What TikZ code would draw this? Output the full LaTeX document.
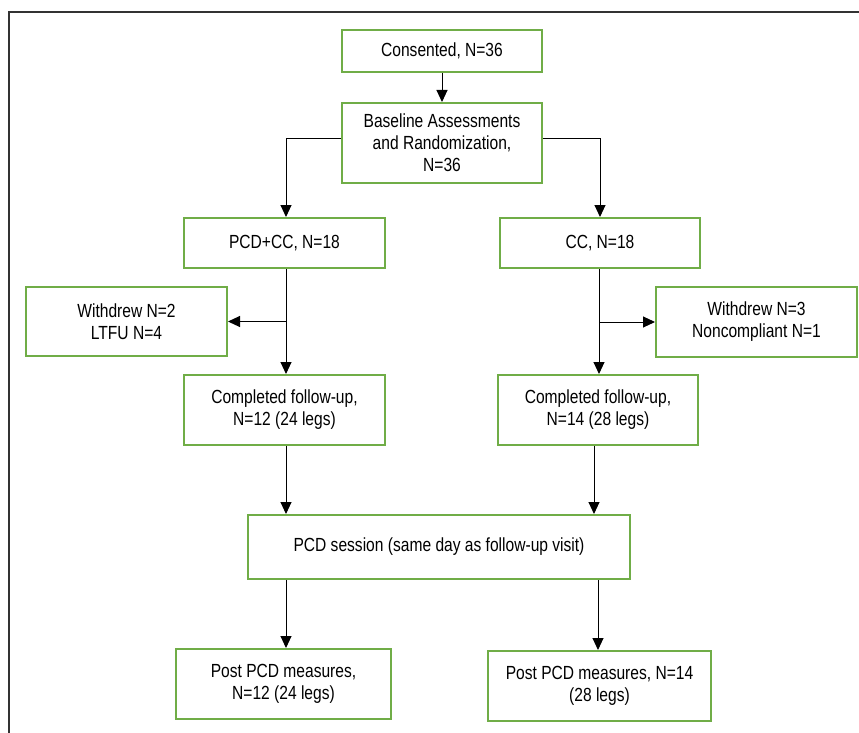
\documentclass[tikz,border=0pt]{standalone}
\usepackage{fontspec}
\setmainfont[FakeStretch=0.82]{Liberation Sans}
\usetikzlibrary{arrows.meta}
\definecolor{boxgreen}{RGB}{112,173,71}
\definecolor{framegray}{RGB}{50,50,50}
\begin{document}
\begin{tikzpicture}[x=1pt,y=-1pt,
  box/.style={draw=boxgreen,line width=2pt,fill=white,align=center,inner sep=0pt,
    font=\fontsize{19}{22}\selectfont},
  arr/.style={line width=1pt,-{Triangle[length=12pt,width=11pt]}},
  ln/.style={line width=1pt}]
\useasboundingbox (0,0) rectangle (859,733);
\draw[framegray,line width=1.5pt] (9,733) -- (9,12) -- (859,12);

\node[box,minimum width=200pt,minimum height=42pt] (cons) at (442,51) {Consented, N=36};
\node[box,minimum width=200pt,minimum height=80pt] (base) at (442,143) {Baseline Assessments\\and Randomization,\\N=36};
\node[box,minimum width=201pt,minimum height=50pt] (pcd) at (284.5,243) {PCD+CC, N=18};
\node[box,minimum width=200pt,minimum height=50pt] (cc) at (600,243) {CC, N=18};
\node[box,minimum width=201pt,minimum height=69pt] (wl) at (126.5,321.5) {Withdrew N=2\\LTFU N=4};
\node[box,minimum width=201pt,minimum height=70pt] (wr) at (756.5,322) {Withdrew N=3\\Noncompliant N=1};
\node[box,minimum width=201pt,minimum height=70pt] (cl) at (284.5,410) {Completed follow-up,\\N=12 (24 legs)};
\node[box,minimum width=200pt,minimum height=70pt] (cr) at (598,410) {Completed follow-up,\\N=14 (28 legs)};
\node[box,minimum width=382pt,minimum height=64pt] (ses) at (439,547) {PCD session (same day as follow-up visit)};
\node[box,minimum width=215pt,minimum height=70pt] (pl) at (283.5,684) {Post PCD measures,\\N=12 (24 legs)};
\node[box,minimum width=223pt,minimum height=70pt] (pr) at (599.5,686) {Post PCD measures, N=14\\(28 legs)};

\draw[arr] (cons.south) -- (base.north);
\draw[arr] ([yshift=4pt]base.west) -| ([xshift=1.5pt]pcd.north);
\draw[arr] ([yshift=4pt]base.east) -| (cc.north);
\draw[arr] ([xshift=1.5pt]pcd.south) -- ([xshift=1.5pt]pcd.south |- cl.north);
\draw[arr] ([xshift=1.5pt]pcd.south |- wl.east) -- (wl.east);
\draw[arr] ([xshift=-1pt]cc.south) -- ([xshift=-1pt]cc.south |- cr.north);
\draw[arr] ([xshift=-1pt]cc.south |- wr.west) -- (wr.west);
\draw[arr] ([xshift=1.5pt]cl.south) -- ([xshift=1.5pt]cl.south |- ses.north);
\draw[arr] ([xshift=-4pt]cr.south) -- ([xshift=-4pt]cr.south |- ses.north);
\draw[arr] ([xshift=2.5pt]pl.north |- ses.south) -- ([xshift=2.5pt]pl.north);
\draw[arr] ([xshift=-1.5pt]pr.north |- ses.south) -- ([xshift=-1.5pt]pr.north);
\end{tikzpicture}
\end{document}
